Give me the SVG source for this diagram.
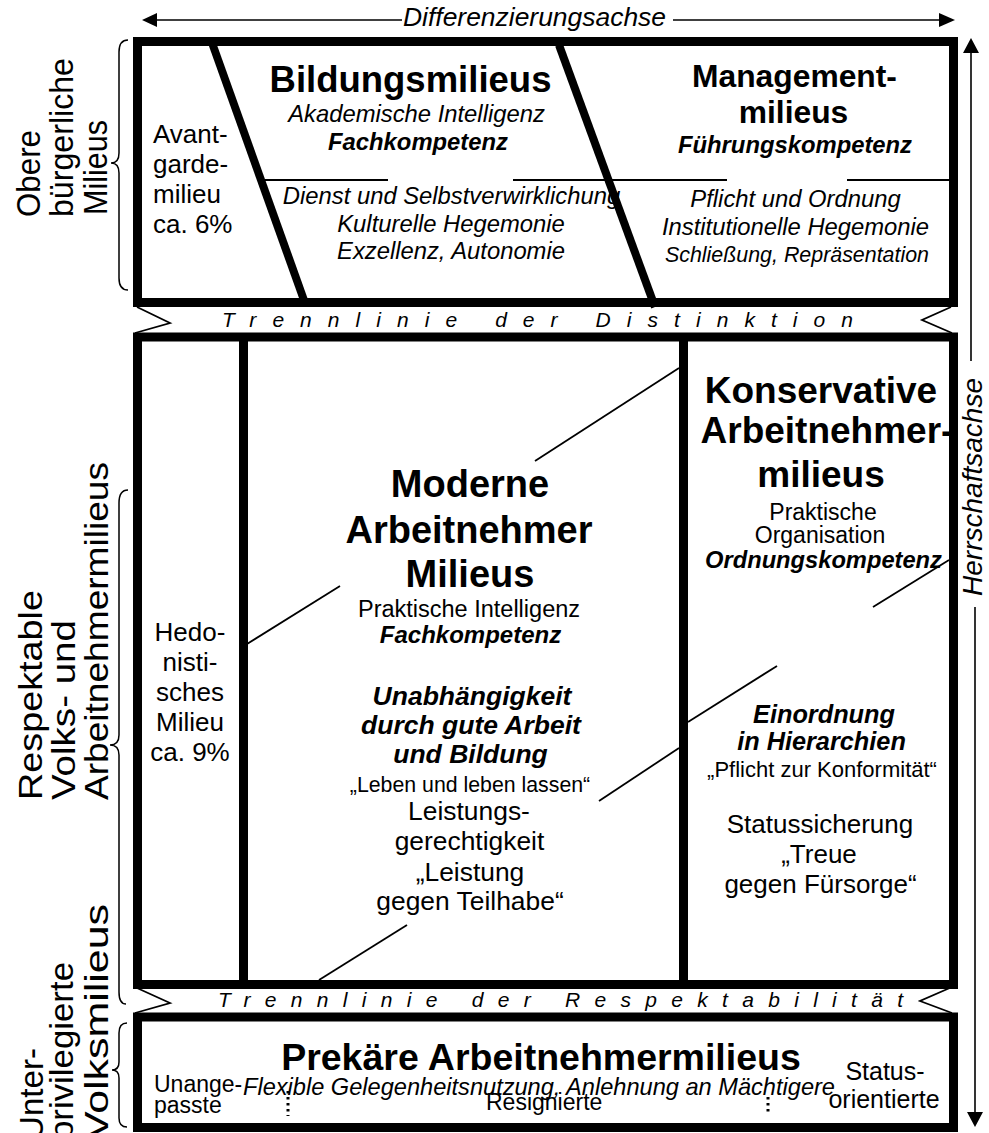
<svg xmlns="http://www.w3.org/2000/svg" width="989" height="1133" viewBox="0 0 989 1133">
<style>
text{font-family:"Liberation Sans",Arial,Helvetica,sans-serif;fill:#000}
.m{text-anchor:middle}
.b{font-weight:bold}
.i{font-style:italic}
.box{fill:none;stroke:#000;stroke-width:9}
.sep{stroke:#000;stroke-width:9;fill:none}
.diag{stroke:#000;stroke-width:8;fill:none}
.thin{stroke:#000;stroke-width:1.8;fill:none}
.axis{stroke:#000;stroke-width:1.6;fill:none}
.brace{stroke:#000;stroke-width:1.5;fill:none}
.chev{stroke:#000;stroke-width:1.8;fill:none}
.dots{stroke:#000;stroke-width:3;stroke-dasharray:2.5 3.5;fill:none}
</style>
<rect x="0" y="0" width="989" height="1133" fill="#fff"/>

<g id="connectors">
  <line class="axis" x1="156" y1="20" x2="402" y2="20"/>
  <line class="axis" x1="673" y1="20" x2="940" y2="20"/>
  <polygon points="142,20 157,13 157,27"/>
  <polygon points="955,20 939,13 939,27"/>
  <text class="i" x="403" y="26" font-size="25" textLength="263" lengthAdjust="spacingAndGlyphs">Differenzierungsachse</text>
  <line class="axis" x1="971" y1="52" x2="971" y2="361"/>
  <polygon points="971,38 963,53 979,53"/>
  <line class="axis" x1="975" y1="607" x2="975" y2="1113"/>
  <polygon points="975,1127 967,1112 983,1112"/>
  <text class="i" transform="translate(982,596) rotate(-90)" font-size="27" textLength="218" lengthAdjust="spacingAndGlyphs">Herrschaftsachse</text>
</g>

<g id="labels-left">
  <path class="brace" d="M128,40 Q119,40 119,52 L119,153 Q119,163 111,163 Q119,163 119,173 L119,278 Q119,290 128,290"/>
  <text transform="translate(40,217) rotate(-90)" font-size="33" textLength="87" lengthAdjust="spacingAndGlyphs">Obere</text>
  <text transform="translate(73,217) rotate(-90)" font-size="33" textLength="159" lengthAdjust="spacingAndGlyphs">bürgerliche</text>
  <text transform="translate(107,215) rotate(-90)" font-size="33" textLength="95" lengthAdjust="spacingAndGlyphs">Milieus</text>

  <path class="brace" d="M128,490 Q119,490 119,503 L119,735 Q119,745 110,745 Q119,745 119,755 L119,992 Q119,1004 126,1004"/>
  <text transform="translate(42,800) rotate(-90)" font-size="33" textLength="210" lengthAdjust="spacingAndGlyphs">Respektable</text>
  <text transform="translate(75,800) rotate(-90)" font-size="33" textLength="180" lengthAdjust="spacingAndGlyphs">Volks- und</text>
  <text transform="translate(108,800) rotate(-90)" font-size="33" textLength="338" lengthAdjust="spacingAndGlyphs">Arbeitnehmermilieus</text>

  <path class="brace" d="M127,1023 Q119,1023 119,1033 L119,1062 Q119,1070 112,1070 Q119,1070 119,1078 L119,1118 Q119,1127 127,1127"/>
  <text transform="translate(43,1140) rotate(-90)" font-size="33" textLength="92" lengthAdjust="spacingAndGlyphs">Unter-</text>
  <text transform="translate(73,1140) rotate(-90)" font-size="33" textLength="178" lengthAdjust="spacingAndGlyphs">privilegierte</text>
  <text transform="translate(108,1140) rotate(-90)" font-size="33" textLength="236" lengthAdjust="spacingAndGlyphs">Volksmilieus</text>
</g>

<g id="box-obere">
  <rect class="box" x="137.5" y="41.5" width="816" height="261"/>
  <line class="diag" x1="211" y1="40" x2="305" y2="303"/>
  <line class="diag" x1="559" y1="45" x2="655" y2="307"/>
  <line class="thin" x1="263" y1="180" x2="388" y2="180"/>
  <line class="thin" x1="513" y1="180" x2="727" y2="180"/>
  <line class="thin" x1="847" y1="180" x2="950" y2="180"/>
</g>

<g id="node-avantgarde">
  <text x="153" y="143" font-size="26">Avant-</text>
  <text x="153" y="173" font-size="26">garde-</text>
  <text x="153" y="203" font-size="26">milieu</text>
  <text x="153" y="233" font-size="26">ca. 6%</text>
</g>

<g id="node-bildungsmilieus">
  <text class="m b" x="410.5" y="92" font-size="36.5">Bildungsmilieus</text>
  <text class="m i" x="416.5" y="122" font-size="23.8">Akademische Intelligenz</text>
  <text class="m b i" x="418" y="150" font-size="23.8">Fachkompetenz</text>
  <text class="m i" x="451.5" y="204" font-size="23.8">Dienst und Selbstverwirklichung</text>
  <text class="m i" x="451" y="232" font-size="23.8">Kulturelle Hegemonie</text>
  <text class="m i" x="451" y="259" font-size="23.8">Exzellenz, Autonomie</text>
</g>

<g id="node-managementmilieus">
  <text class="m b" x="794.5" y="87" font-size="31.8">Management-</text>
  <text class="m b" x="793.5" y="123" font-size="31.8">milieus</text>
  <text class="m b i" x="795" y="153" font-size="23.8">Führungskompetenz</text>
  <text class="m i" x="795.5" y="207" font-size="23.8">Pflicht und Ordnung</text>
  <text class="m i" x="795.5" y="235" font-size="23.8">Institutionelle Hegemonie</text>
  <text class="m i" x="797" y="262" font-size="21.4">Schließung, Repräsentation</text>
</g>

<g id="trennlinie-distinktion">
  <polyline class="chev" points="137,307 170,323 135,333"/>
  <polyline class="chev" points="951,307 922,320 952,333"/>
  <text class="i" x="222" y="327" font-size="21" textLength="631" lengthAdjust="spacing">Trennlinie der Distinktion</text>
</g>

<g id="box-respektable">
  <rect class="box" x="137.5" y="337" width="816" height="647.5"/>
  <line class="sep" x1="243.5" y1="340" x2="243.5" y2="982"/>
  <line class="sep" x1="683.5" y1="340" x2="683.5" y2="982"/>
  <line class="thin" x1="247" y1="644" x2="340" y2="586"/>
  <line class="thin" x1="535" y1="461" x2="679" y2="368"/>
  <line class="thin" x1="319" y1="980" x2="407" y2="925"/>
  <line class="thin" x1="599" y1="801" x2="679" y2="748"/>
  <line class="thin" x1="688" y1="722" x2="777" y2="666"/>
  <line class="thin" x1="873" y1="607" x2="949" y2="560"/>
</g>

<g id="node-hedonistisch">
  <text class="m" x="190" y="641" font-size="26">Hedo-</text>
  <text class="m" x="190" y="671" font-size="26">nisti-</text>
  <text class="m" x="190" y="701" font-size="26">sches</text>
  <text class="m" x="190" y="731" font-size="26">Milieu</text>
  <text class="m" x="190" y="761" font-size="26">ca. 9%</text>
</g>

<g id="node-moderne">
  <text class="m b" x="470" y="497" font-size="38">Moderne</text>
  <text class="m b" x="469" y="543" font-size="38">Arbeitnehmer</text>
  <text class="m b" x="470" y="587" font-size="38">Milieus</text>
  <text class="m" x="469" y="617" font-size="23.5">Praktische Intelligenz</text>
  <text class="m b i" x="470.5" y="643" font-size="24">Fachkompetenz</text>
  <text class="m b i" x="472" y="705" font-size="26.5">Unabhängigkeit</text>
  <text class="m b i" x="471" y="734" font-size="26.5">durch gute Arbeit</text>
  <text class="m b i" x="470.5" y="763" font-size="26.5">und Bildung</text>
  <text class="m" x="470" y="792" font-size="21.3">„Leben und leben lassen“</text>
  <text class="m" x="469" y="820" font-size="26.4">Leistungs-</text>
  <text class="m" x="469.5" y="850" font-size="26.4">gerechtigkeit</text>
  <text class="m" x="470" y="881" font-size="26.4">„Leistung</text>
  <text class="m" x="470" y="910" font-size="26.4">gegen Teilhabe“</text>
</g>

<g id="node-konservative">
  <text class="m b" x="821" y="403" font-size="37">Konservative</text>
  <text class="m b" x="827" y="443" font-size="37">Arbeitnehmer-</text>
  <text class="m b" x="821" y="487" font-size="37">milieus</text>
  <text class="m" x="823" y="520" font-size="23">Praktische</text>
  <text class="m" x="820" y="543" font-size="23">Organisation</text>
  <text class="m b i" x="823.5" y="568" font-size="23.7">Ordnungskompetenz</text>
  <text class="m b i" x="824" y="723" font-size="25.3">Einordnung</text>
  <text class="m b i" x="821.5" y="750" font-size="25.3">in Hierarchien</text>
  <text class="m" x="822" y="777" font-size="22">„Pflicht zur Konformität“</text>
  <text class="m" x="820" y="833" font-size="26">Statussicherung</text>
  <text class="m" x="819" y="863" font-size="26">„Treue</text>
  <text class="m" x="820.5" y="893" font-size="26">gegen Fürsorge“</text>
</g>

<g id="trennlinie-respektabilitaet">
  <polyline class="chev" points="137,988 170,1003 135,1013"/>
  <polyline class="chev" points="952,987 920,1001 952,1013"/>
  <text class="i" x="218" y="1007" font-size="21" textLength="685" lengthAdjust="spacing">Trennlinie der Respektabilität</text>
</g>

<g id="node-prekaere">
  <rect class="box" x="137.5" y="1017" width="816" height="110.5"/>
  <text class="m b" x="541" y="1070" font-size="37.5">Prekäre Arbeitnehmermilieus</text>
  <text x="154" y="1092" font-size="23">Unange-</text>
  <text x="154" y="1113" font-size="23">passte</text>
  <text class="m i" x="539" y="1095" font-size="23.6">Flexible Gelegenheitsnutzung, Anlehnung an Mächtigere</text>
  <text x="486" y="1110" font-size="23">Resignierte</text>
  <text class="m" x="885" y="1080" font-size="25">Status-</text>
  <text class="m" x="884" y="1108" font-size="25">orientierte</text>
  <line class="dots" x1="288" y1="1091" x2="288" y2="1116"/>
  <line class="dots" x1="768" y1="1097" x2="768" y2="1114"/>
</g>
</svg>
